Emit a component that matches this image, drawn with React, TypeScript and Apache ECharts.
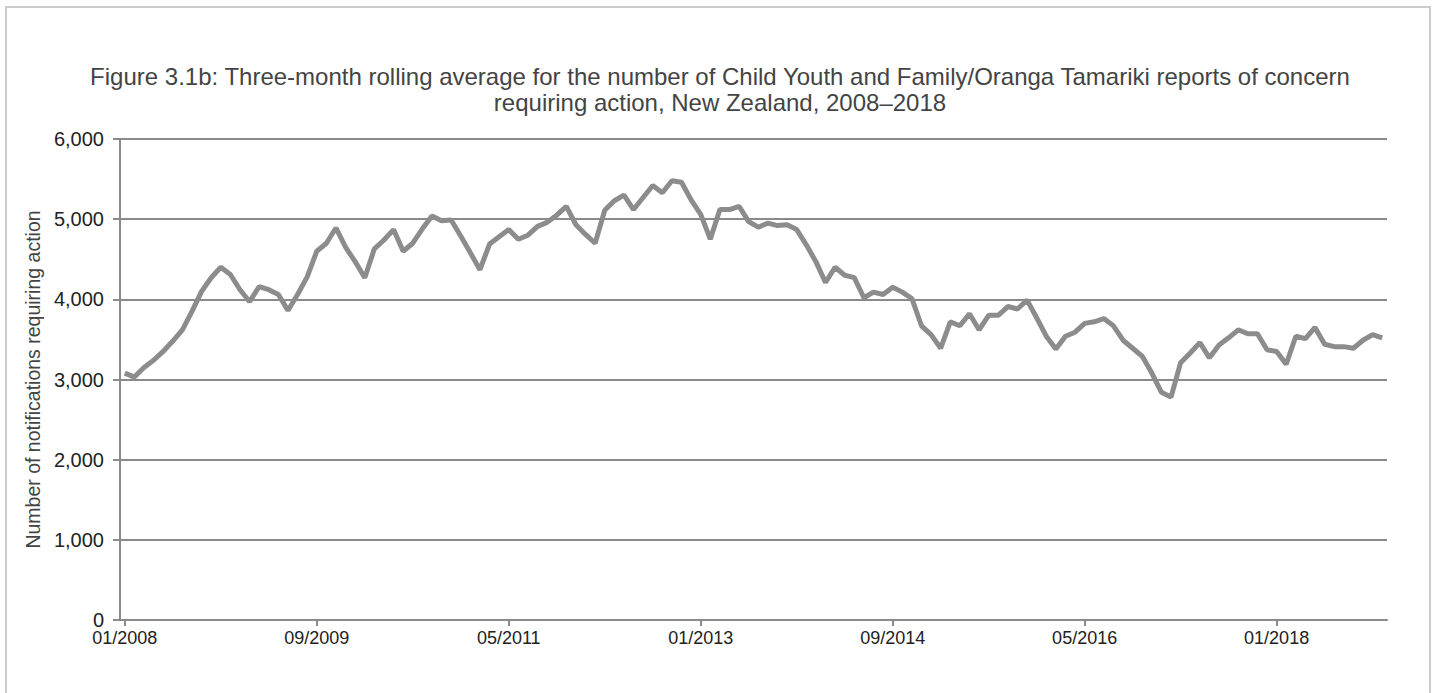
import React, { useEffect, useRef } from "react";
import * as echarts from "echarts";

const titleLines = [
  "Figure 3.1b: Three-month rolling average for the number of Child Youth and Family/Oranga Tamariki reports of concern",
  "requiring action, New Zealand, 2008\u20132018",
];
const yAxisName = "Number of notifications requiring action";
const startYear = 2008;
const yTicks = [0, 1000, 2000, 3000, 4000, 5000, 6000];

const v2008 = [3080, 3030, 3150, 3240, 3350, 3480, 3620, 3850, 4100, 4270, 4400, 4310];
const v2009 = [4120, 3970, 4160, 4120, 4060, 3860, 4060, 4280, 4600, 4700, 4890, 4650];
const v2010 = [4470, 4270, 4630, 4740, 4870, 4600, 4700, 4880, 5040, 4980, 4990, 4790];
const v2011 = [4580, 4370, 4690, 4780, 4870, 4750, 4800, 4910, 4960, 5050, 5160, 4930];
const v2012 = [4810, 4700, 5110, 5230, 5300, 5120, 5270, 5420, 5330, 5480, 5460, 5240];
const v2013 = [5060, 4750, 5120, 5120, 5160, 4970, 4900, 4950, 4920, 4930, 4870, 4680];
const v2014 = [4470, 4210, 4400, 4300, 4270, 4020, 4090, 4060, 4150, 4090, 4010, 3670];
const v2015 = [3560, 3390, 3720, 3670, 3820, 3620, 3800, 3800, 3910, 3880, 3990, 3770];
const v2016 = [3540, 3380, 3540, 3590, 3700, 3720, 3760, 3670, 3490, 3390, 3290, 3080];
const v2017 = [2840, 2780, 3210, 3330, 3460, 3270, 3430, 3520, 3620, 3570, 3570, 3370];
const v2018 = [3350, 3190, 3540, 3510, 3650, 3440, 3410, 3410, 3390, 3490, 3560, 3520];

const yearly = [v2008, v2009, v2010, v2011, v2012, v2013, v2014, v2015, v2016, v2017, v2018];

export default function App() {
  const ref = useRef<HTMLDivElement>(null);
  useEffect(() => {
    if (!ref.current) return;
    const chart = echarts.init(ref.current, null, { renderer: "svg" });
    const categories: string[] = [];
    const values: number[] = [];
    yearly.forEach((arr, yi) => {
      arr.forEach((v, mi) => {
        categories.push(String(mi + 1).padStart(2, "0") + "/" + (startYear + yi));
        values.push(v);
      });
    });
    const sans = "'Liberation Sans', Arial, sans-serif";
    chart.setOption({
      animation: false,
      backgroundColor: "#ffffff",
      graphic: [
        {
          type: "rect",
          shape: { x: 6, y: 7, width: 1424, height: 720 },
          style: { fill: "none", stroke: "#cccccc", lineWidth: 2 },
          silent: true,
        },
        {
          type: "text",
          x: 720,
          y: 76,
          style: {
            text: titleLines[0],
            font: "24px " + sans,
            fill: "#444444",
            textAlign: "center",
            textVerticalAlign: "middle",
          },
        },
        {
          type: "text",
          x: 720,
          y: 102,
          style: {
            text: titleLines[1],
            font: "24px " + sans,
            fill: "#444444",
            textAlign: "center",
            textVerticalAlign: "middle",
          },
        },
      ],
      grid: { left: 120, right: 49, top: 139, bottom: 73, containLabel: false },
      xAxis: {
        type: "category",
        data: categories,
        boundaryGap: true,
        axisLine: { show: true, lineStyle: { color: "#8a8a8a", width: 2 } },
        axisTick: { show: true, interval: 19, alignWithLabel: true, length: 6, lineStyle: { color: "#8a8a8a", width: 2 } },
        axisLabel: {
          interval: 19,
          color: "#222222",
          fontFamily: sans,
          fontSize: 18,
          lineHeight: 18,
          margin: 9,
        },
        splitLine: { show: false },
      },
      yAxis: {
        type: "value",
        min: yTicks[0],
        max: yTicks[yTicks.length - 1],
        interval: 1000,
        name: yAxisName,
        nameLocation: "middle",
        nameGap: 72,
        nameRotate: 90,
        nameTextStyle: { color: "#444444", fontFamily: sans, fontSize: 19.5 },
        axisLine: { show: true, lineStyle: { color: "#8a8a8a", width: 2 } },
        axisTick: { show: true, length: 7, lineStyle: { color: "#8a8a8a", width: 2 } },
        axisLabel: {
          color: "#222222",
          fontFamily: sans,
          fontSize: 20,
          lineHeight: 15,
          margin: 16,
          formatter: (v: number) => v.toLocaleString("en-US"),
        },
        splitLine: { show: true, lineStyle: { color: "#8a8a8a", width: 2 } },
      },
      series: [
        {
          type: "line",
          data: values,
          symbol: "none",
          lineStyle: { color: "#8c8c8c", width: 5 },
          itemStyle: { color: "#8c8c8c" },
        },
      ],
    });
    return () => chart.dispose();
  }, []);
  return (
    <div
      ref={ref}
      style={{ position: "fixed", left: 0, top: 0, width: 1436, height: 693 }}
    />
  );
}
